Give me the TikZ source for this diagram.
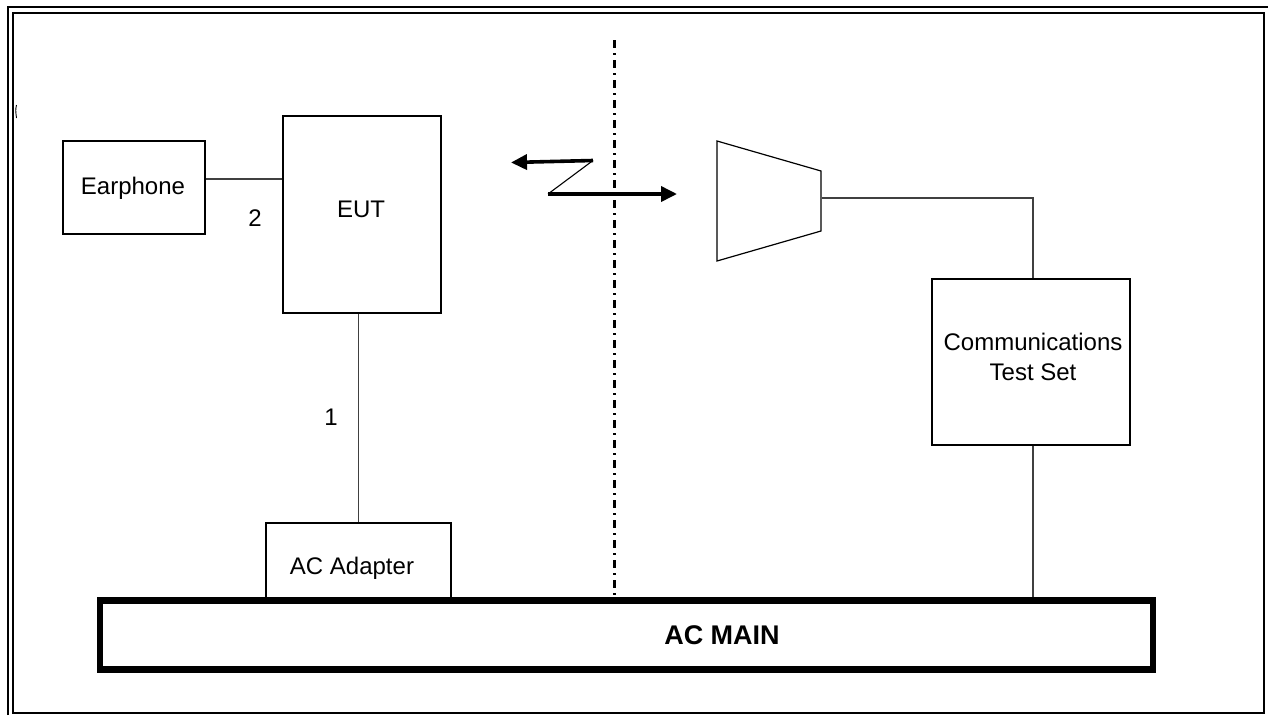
\documentclass[tikz,border=0pt]{standalone}
\usepackage{fontspec}
\setmainfont{Liberation Sans}
\usetikzlibrary{arrows.meta,calc}
\begin{document}
\begin{tikzpicture}[x=1pt,y=-1pt,
  box/.style={draw=black,line width=1.2pt,inner sep=0pt},
  wire/.style={draw=black!75,line width=1.1pt},
  lbl/.style={font=\fontsize{24}{28}\selectfont,align=center,inner sep=0pt},
  bigarrow/.style={line width=3.6pt,-{Triangle[length=16pt,width=15pt]}},
  frame/.style={line width=2.5pt}]
\useasboundingbox (0,0) rectangle (1268,715);
% frame
\draw[frame] (8,715) -- (8,7) -- (1268,7);
\draw[frame] (13,13) rectangle (1264,713);
\draw[line width=0.9pt] (16.5,105) .. controls (15.5,110) .. (16.5,118);
% boxes
\node[box,minimum width=142pt,minimum height=93pt] (ear) at (134,187.5) {};
\node[lbl] (earl) at (133,188) {Earphone};
\node[box,minimum width=158pt,minimum height=197pt] (eut) at (362,214.5) {};
\node[lbl] (eutl) at (361,209) {EUT};
\node[box,minimum width=185pt,minimum height=75pt] (adp) at (358.5,560.5) {};
\node[lbl] (adpl) at (352,568) {AC Adapter};
\node[box,minimum width=198pt,minimum height=166pt] (cts) at (1031,362) {};
\node[lbl] (ctsl) at (1033,357) {Communications\\[2pt]Test Set};
\node[draw=black,line width=6.5pt,minimum width=1053pt,minimum height=69pt,inner sep=0pt] (acm) at (626.5,635) {};
\node[lbl,font=\fontsize{27}{30}\selectfont\bfseries] (acml) at (722,635) {AC MAIN};
% labels
\node[lbl] (n2) at (255,218) {2};
\node[lbl] (n1) at (331,417) {1};
% horn
\coordinate (h1) at (717,141);
\coordinate (h2) at (821,171);
\coordinate (h3) at (821,231);
\coordinate (h4) at (717,261);
\draw[line width=1.2pt,line join=miter] (h1) -- (h2) -- (h3) -- (h4) -- cycle;
\coordinate (hm) at (822,198);
% connectors
\path ([yshift=8.5pt]ear.east) coordinate (e1);
\draw[wire] (e1) -- (e1 -| eut.west);
\draw[wire] (adp.north) -- (adp.north |- eut.south);
\draw[wire] ([xshift=2pt]cts.south) -- ([xshift=2pt]cts.south |- acm.north);
\draw[wire] (hm) -- (hm -| ctsl.north) -- ([xshift=2pt]cts.north);
% divider
\coordinate (dtop) at (614,40);
\draw[line width=3pt,dash pattern=on 8pt off 5pt on 2pt off 5pt] (dtop) -- (dtop |- acm.north);
% radio link
\coordinate (z1) at (593,160.5);
\coordinate (z2) at (548,194);
\coordinate (zl) at (511,162.5);
\coordinate (zr) at (677,194);
\draw[bigarrow] (z1) -- (zl);
\draw[line width=1.1pt] (z1) -- (z2);
\draw[bigarrow] (z2) -- (zr);
\end{tikzpicture}
\end{document}
